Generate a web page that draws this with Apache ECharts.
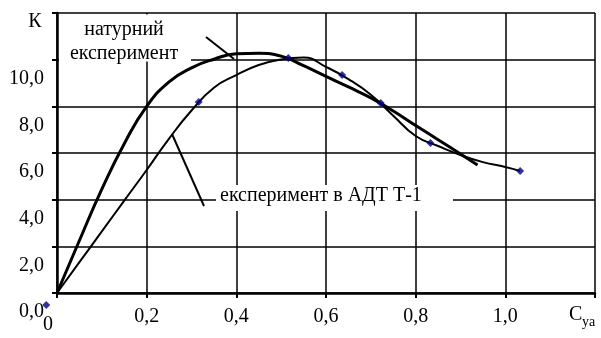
<!DOCTYPE html>
<html>
<head>
<meta charset="utf-8">
<script src="https://cdn.jsdelivr.net/npm/echarts@6/dist/echarts.min.js"></script>
<style>html,body{margin:0;padding:0;background:#fff}#c{width:601px;height:338px}</style>
</head>
<body>
<div id="c"></div>
<script>
// X ticks (C_ya) and Y ticks (K)
var xTicks = [0, 0.2, 0.4, 0.6, 0.8, 1.0, 1.2];
var yTicks = [0, 2, 4, 6, 8, 10, 12];
// "натурний експеримент" curve (thick)
var naturX = [0, 0.05, 0.1, 0.15, 0.2, 0.25, 0.3, 0.35, 0.4, 0.45, 0.5, 0.55, 0.6, 0.65, 0.7, 0.75, 0.8, 0.85, 0.9, 0.938];
var naturY = [0, 2.25, 4.45, 6.4, 8.0, 9.05, 9.65, 10.02, 10.25, 10.27, 10.15, 9.74, 9.28, 8.83, 8.36, 7.8, 7.18, 6.57, 5.96, 5.49];
// "експеримент в АДТ Т-1" curve (thin)
var adtX = [0, 0.05, 0.1, 0.15, 0.2, 0.25, 0.3, 0.35, 0.4, 0.45, 0.5, 0.55, 0.6, 0.65, 0.7, 0.75, 0.8, 0.85, 0.9, 0.95, 1.0, 1.033];
var adtY = [0, 1.32, 2.64, 3.96, 5.27, 6.62, 7.82, 8.8, 9.34, 9.77, 10.01, 10.09, 9.69, 9.17, 8.5, 7.6, 6.73, 6.3, 5.91, 5.61, 5.4, 5.23];
// measured points (markers)
var ptX = [-0.024, 0.316, 0.516, 0.636, 0.722, 0.833, 1.033];
var ptY = [-0.51, 8.19, 10.07, 9.34, 8.14, 6.43, 5.23];

function zip(a, b) { return a.map(function (v, i) { return [v, b[i]]; }); }
function fmt(v) { return v.toFixed(1).replace('.', ','); }

var FONT = "'Liberation Serif','Times New Roman',serif";
var chart = echarts.init(document.getElementById('c'), null, {renderer: 'canvas'});
chart.setOption({
  animation: false,
  backgroundColor: '#fff',
  textStyle: {fontFamily: FONT},
  grid: {left: 57, right: 6, top: 13, bottom: 45, containLabel: false},
  xAxis: {
    type: 'value', min: xTicks[0], max: xTicks[xTicks.length - 1], interval: 0.2,
    axisLine: {lineStyle: {color: '#000', width: 2.5}},
    axisTick: {show: true, inside: false, length: 5, lineStyle: {color: '#000', width: 2}},
    splitLine: {show: true, lineStyle: {color: '#000', width: 1.5}},
    axisLabel: {
      margin: 14, fontSize: 20, color: '#000', fontFamily: FONT,
      formatter: function (v) { return (v === 0 || v > 1.1) ? '' : fmt(v); }
    }
  },
  yAxis: {
    type: 'value', min: yTicks[0], max: yTicks[yTicks.length - 1], interval: 2,
    axisLine: {show: true, lineStyle: {color: '#000', width: 2.5}},
    axisTick: {show: true, inside: false, length: 5, lineStyle: {color: '#000', width: 2}},
    splitLine: {show: true, lineStyle: {color: '#000', width: 1.5}},
    axisLabel: {
      margin: 13, fontSize: 20, color: '#000', fontFamily: FONT,
      verticalAlign: 'top', lineHeight: 38,
      formatter: function (v) { return v > 11 ? '' : fmt(v); }
    }
  },
  series: [
    {
      name: 'натурний експеримент', type: 'line', data: zip(naturX, naturY),
      smooth: 0.5, showSymbol: false, symbol: 'none',
      lineStyle: {color: '#000', width: 3}, z: 3
    },
    {
      name: 'експеримент в АДТ Т-1', type: 'line', data: zip(adtX, adtY),
      smooth: 0.5, showSymbol: false, symbol: 'none',
      lineStyle: {color: '#000', width: 2}, z: 3
    },
    {
      type: 'scatter', data: zip(ptX, ptY), symbol: 'diamond', symbolSize: 8,
      itemStyle: {color: '#000080'}, clip: false, z: 4
    }
  ],
  graphic: [
    {type: 'rect', z: 100, shape: {x: 59, y: 14.5, width: 132, height: 47}, style: {fill: '#fff'}},
    {type: 'text', z: 101, x: 124, y: 42, style: {text: 'натурний\nексперимент', font: '20px ' + FONT, fill: '#000', textAlign: 'center', textVerticalAlign: 'middle', lineHeight: 24}},
    {type: 'line', z: 101, shape: {x1: 206, y1: 37, x2: 234, y2: 59}, style: {stroke: '#000', lineWidth: 2}},
    {type: 'rect', z: 100, shape: {x: 216, y: 185, width: 237, height: 26}, style: {fill: '#fff'}},
    {type: 'text', z: 101, x: 220, y: 196, style: {text: 'експеримент в АДТ Т-1', font: '20px ' + FONT, fill: '#000', textAlign: 'left', textVerticalAlign: 'middle'}},
    {type: 'line', z: 101, shape: {x1: 172, y1: 134, x2: 204, y2: 206}, style: {stroke: '#000', lineWidth: 2}},
    {type: 'text', z: 101, x: 35, y: 22, style: {text: 'К', font: '20px ' + FONT, fill: '#000', textAlign: 'center', textVerticalAlign: 'middle'}},
    {type: 'text', z: 101, x: 48, y: 325, style: {text: '0', font: '20px ' + FONT, fill: '#000', textAlign: 'center', textVerticalAlign: 'middle'}},
    {type: 'text', z: 101, x: 569, y: 315, style: {text: 'C', font: '20px ' + FONT, fill: '#000', textAlign: 'left', textVerticalAlign: 'middle'}},
    {type: 'text', z: 101, x: 582, y: 322, style: {text: 'ya', font: '14px ' + FONT, fill: '#000', textAlign: 'left', textVerticalAlign: 'middle'}}
  ]
});
</script>
</body>
</html>
